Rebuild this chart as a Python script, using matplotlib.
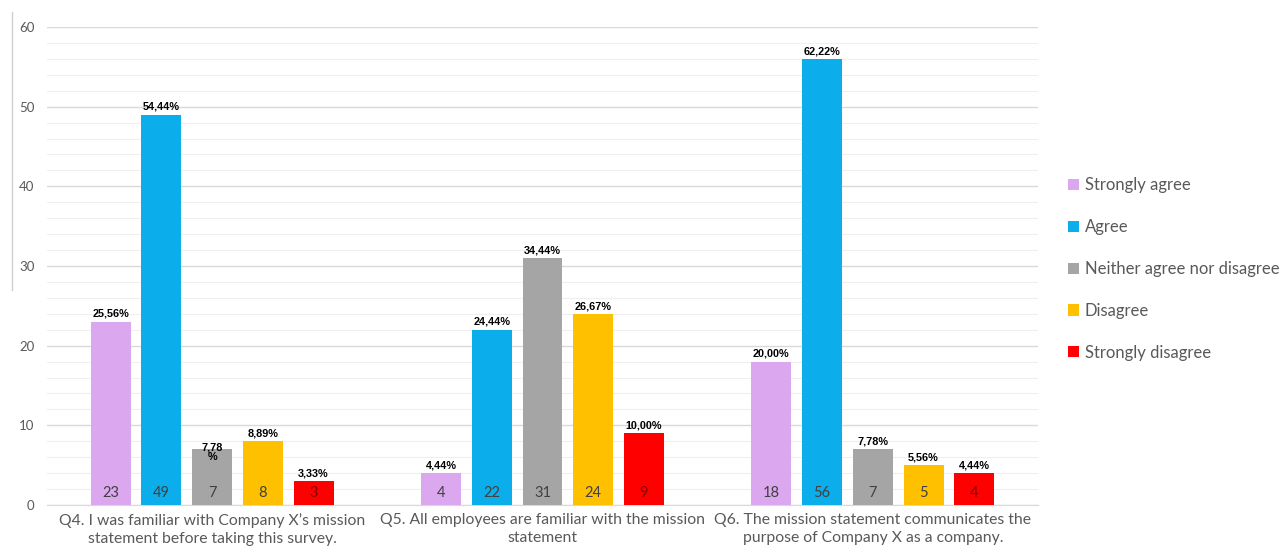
import numpy as np
import matplotlib.pyplot as plt
from matplotlib.lines import Line2D

questions = ["Q4. I was familiar with Company X\u2019s mission\nstatement before taking this survey.",
             "Q5. All employees are familiar with the mission\nstatement",
             "Q6. The mission statement communicates the\npurpose of Company X as a company."]
answers = ["Strongly agree", "Agree", "Neither agree nor disagree", "Disagree", "Strongly disagree"]
colors = ["#DBA7EE", "#0BADEA", "#A5A5A5", "#FFC000", "#FF0000"]
counts = {
    "Strongly agree": [23, 4, 18],
    "Agree": [49, 22, 56],
    "Neither agree nor disagree": [7, 31, 7],
    "Disagree": [8, 24, 5],
    "Strongly disagree": [3, 9, 4],
}
total = 90

fig = plt.figure(figsize=(12.83, 5.59), dpi=100)
ax = fig.add_axes([47 / 1283, 54 / 559, 991 / 1283, 478 / 559])

x = np.arange(len(questions))
step = 0.1535
width = 0.121
for i, ans in enumerate(answers):
    vals = counts[ans]
    pos = x + (i - 2) * step
    ax.bar(pos, vals, width, color=colors[i], label=ans, zorder=3)
    for p, v in zip(pos, vals):
        pct = "%.2f%%" % (100 * v / total)
        pct = pct.replace(".", ",")
        if ans == "Neither agree nor disagree" and p < 0.5:
            # this one wraps in the original
            pct = pct[:-1] + "\n%"
            ax.annotate(pct, (p, v), xytext=(0, -9), textcoords="offset points",
                        ha="center", va="bottom", fontsize=7.8, fontweight="bold",
                        family="Liberation Sans", linespacing=0.9, zorder=4)
        else:
            ax.annotate(pct, (p, v), xytext=(0, 2), textcoords="offset points",
                        ha="center", va="bottom", fontsize=7.8, fontweight="bold",
                        family="Liberation Sans", zorder=4)
        ax.annotate(str(v), (p, 0), xytext=(0, 3.5), textcoords="offset points",
                    ha="center", va="bottom", fontsize=10.5, family="Lato",
                    color="#7F0000" if ans == "Strongly disagree" else "#404040", zorder=4)

ax.set_xlim(-0.5, 2.5)
ax.set_ylim(0, 60)
ax.set_yticks(np.arange(0, 61, 10))
ax.set_yticks(np.arange(0, 61, 2), minor=True)
ax.grid(axis="y", which="major", color="#D9D9D9", linewidth=1, zorder=0)
ax.grid(axis="y", which="minor", color="#EFEFEF", linewidth=0.8, zorder=0)
ax.set_xticks(x)
ax.set_xticklabels(questions, fontsize=11.3, family="Lato", color="#595959", linespacing=1.3)
ax.tick_params(axis="x", length=0, pad=6)
ax.tick_params(axis="y", which="both", length=0, labelsize=9.5, labelcolor="#595959", pad=9)
for lab in ax.get_yticklabels():
    lab.set_family("Lato")
for s in ["top", "right", "left"]:
    ax.spines[s].set_visible(False)
ax.spines["bottom"].set_color("#D9D9D9")

leg = fig.legend(loc="center left", bbox_to_anchor=(1053 / 1283, 1 - 269 / 559), frameon=False,
                 handlelength=0.65, handleheight=0.65, handletextpad=0.35, labelspacing=1.55,
                 prop={"family": "Lato", "size": 12})
for t in leg.get_texts():
    t.set_color("#595959")

fig.add_artist(Line2D([12 / 1283, 12 / 1283], [1 - 290 / 559, 1 - 12 / 559], color="#D0D0D0", lw=1))

fig.savefig("out.png", dpi=100)
